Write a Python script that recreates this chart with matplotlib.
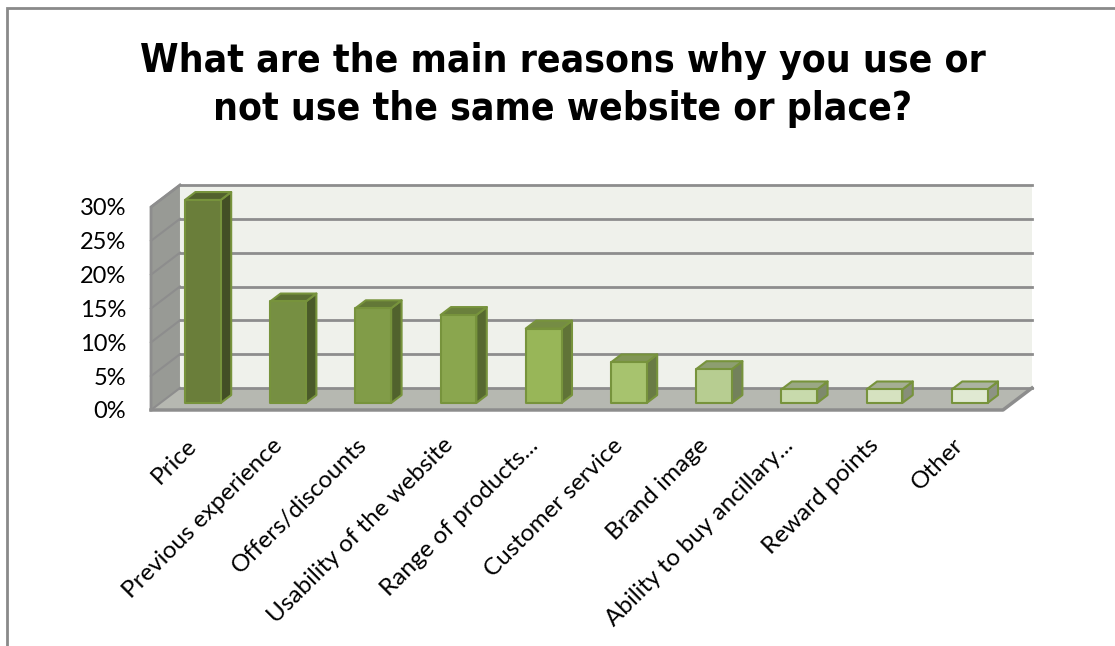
import matplotlib.pyplot as plt
from matplotlib.patches import Polygon, Rectangle
import numpy as np

# survey answers (share of respondents, %)
reasons = ['Price', 'Previous experience', 'Offers/discounts', 'Usability of the website',
           'Range of products...', 'Customer service', 'Brand image',
           'Ability to buy ancillary...', 'Reward points', 'Other']
shares = [30, 15, 14, 13, 11, 6, 5, 2, 2, 2]
yticks = [0, 5, 10, 15, 20, 25, 30]

# one shade of green per bar, darkest first
bar_colors = ['#6a7e3a', '#768f42', '#819c48', '#8aa64e', '#98b658',
              '#a7c36e', '#b7cd91', '#c8daac', '#d6e2c0', '#e0e9d2']

W, H = 1115, 646
fig = plt.figure(figsize=(W / 100, H / 100), dpi=100)

# outer chart border (only top and left edges fall inside the image)
fig.add_artist(Rectangle((7 / W, -1), 2, 1 + (H - 7.5) / H, transform=fig.transFigure,
                         fill=False, edgecolor='#8a8a8a', lw=2))

fig.text(563 / W, 1 - 42 / H, 'What are the main reasons why you use or\nnot use the same website or place?',
         ha='center', va='top', fontsize=28, fontweight='bold', fontstretch='condensed',
         linespacing=1.33, family=['DejaVu Sans'])

# axes = front plane of the 3d box
ax = fig.add_axes([151 / W, (H - 410) / H, 852 / W, 203 / H])
ax.set_xlim(0, len(reasons))
ax.set_ylim(0, 30)
ax.patch.set_alpha(0)
for s in ax.spines.values():
    s.set_visible(False)

n = len(reasons)
DX, DY = 0.34, 3.25        # depth offset in data units
grid_c = '#8d8d8d'

def poly(pts, **kw):
    ax.add_patch(Polygon(pts, closed=True, clip_on=False, **kw))

# walls and floor
poly([(DX, DY), (n + DX, DY), (n + DX, 30 + DY), (DX, 30 + DY)], facecolor='#eff1eb', edgecolor='none', zorder=1)
poly([(0, 0), (DX, DY), (DX, 30 + DY), (0, 30)], facecolor='#989a95', edgecolor='none', zorder=1)
poly([(0, 0), (n, 0), (n + DX, DY), (DX, DY)], facecolor='#b6b8b1', edgecolor='none', zorder=1)
for v in yticks:
    ax.plot([DX, n + DX], [v + DY, v + DY], color=grid_c, lw=2, zorder=2, clip_on=False)
    ax.plot([0, DX], [v, v + DY], color=grid_c, lw=1.5, zorder=2, clip_on=False)
ax.plot([0, 0, DX], [0, 30, 30 + DY], color=grid_c, lw=2, zorder=2, clip_on=False)
ax.plot([0, n, n + DX], [0, 0, DY], color=grid_c, lw=2.5, zorder=2, clip_on=False)

# bars
bw = 0.42
d0, d1 = 0.32, 0.68
edge = '#77933c'
for i, (v, c) in enumerate(zip(shares, bar_colors)):
    rgb = np.array(plt.matplotlib.colors.to_rgb(c))
    x0 = i + (1 - bw) / 2
    xa, ya = x0 + d0 * DX, d0 * DY
    xb, yb = x0 + d1 * DX, d1 * DY
    poly([(xa + bw, ya), (xb + bw, yb), (xb + bw, v + yb), (xa + bw, v + ya)],
         facecolor=rgb * 0.63, edgecolor=edge, lw=1.5, joinstyle='round', zorder=3)
    poly([(xa, v + ya), (xa + bw, v + ya), (xb + bw, v + yb), (xb, v + yb)],
         facecolor=rgb * 0.77, edgecolor=edge, lw=1.5, joinstyle='round', zorder=3)
    ax.add_patch(Rectangle((xa, ya), bw, v, facecolor=rgb, edgecolor=edge, lw=1.5,
                           joinstyle='round', zorder=4, clip_on=False))

ax.set_yticks(yticks)
ax.set_yticklabels([f'{v}%' for v in yticks], family='Lato', fontsize=17)
ax.set_xticks(np.arange(n) + 0.5)
ax.set_xticklabels(reasons, rotation=45, ha='right', va='center', rotation_mode='anchor',
                   family='Lato', fontsize=17.5)
ax.tick_params(axis='y', length=0, pad=18)
ax.tick_params(axis='x', length=0, pad=23)

fig.savefig('out.png', dpi=100)
